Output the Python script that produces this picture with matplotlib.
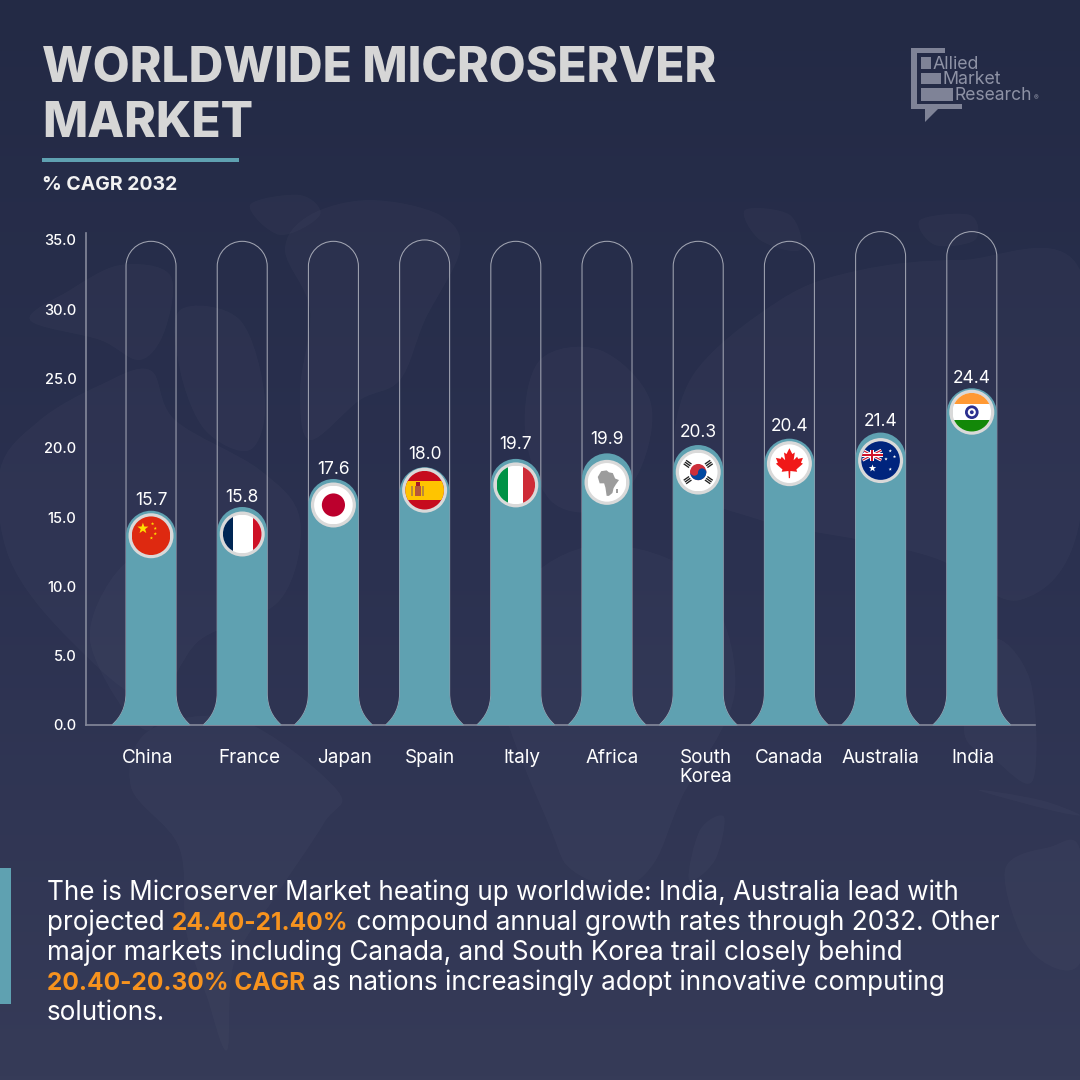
import numpy as np
import matplotlib
matplotlib.use("Agg")
import matplotlib.pyplot as plt
from matplotlib.colors import LinearSegmentedColormap
from matplotlib.patches import Circle, PathPatch, Polygon, Rectangle
from matplotlib.path import Path
from matplotlib.transforms import Affine2D, ScaledTranslation

plt.rcParams['font.family'] = ['Inter', 'DejaVu Sans']

countries = ["China", "France", "Japan", "Spain", "Italy", "Africa", "South\nKorea", "Canada", "Australia", "India"]
cagr_labels = [15.7, 15.8, 17.6, 18.0, 19.7, 19.9, 20.3, 20.4, 21.4, 24.4]
bar_heights = [15.46, 15.73, 17.75, 18.6, 19.2, 19.6, 20.2, 20.66, 21.1, 24.3]
track_heights = [34.9, 34.9, 34.9, 35.0, 34.9, 34.9, 34.9, 34.9, 35.6, 35.6]
y_ticks = [0, 5, 10, 15, 20, 25, 30, 35]

# hand placed bits of the original layout, in px
label_gap = [10, 9, 9, 13, 14, 14, 13, 12, 11, 10]
flag_inset = [25, 27, 26, 23, 26, 29, 27, 25, 28, 24]
xlabel_shift = [-3, 7, 11, 5, 6, 5, 8, 0, 0, 1]

TEAL = "#5fa1b1"
ORANGE = "#f7931e"
LOGO = "#7f8397"
FLAG_R = 22.5

body_lines = [
    [("The is Microserver Market heating up worldwide: India, Australia lead with", False)],
    [("projected ", False), ("24.40-21.40%", True), (" compound annual growth rates through 2032. Other", False)],
    [("major markets including Canada, and South Korea trail closely behind", False)],
    [("20.40-20.30% CAGR", True), (" as nations increasingly adopt innovative computing", False)],
    [("solutions.", False)],
]

# rough outline of the faint map behind the chart
land = [
    [(310, 215), (370, 200), (440, 215), (460, 250), (425, 320), (400, 380), (360, 400), (310, 440), (300, 390), (310, 310), (285, 250)],
    [(70, 290), (120, 265), (170, 275), (165, 330), (140, 360), (100, 340), (30, 320)],
    [(180, 310), (240, 320), (265, 400), (250, 450), (205, 430), (180, 370)],
    [(250, 205), (300, 195), (320, 215), (280, 235)],
    [(100, 385), (150, 370), (175, 420), (260, 470), (300, 520), (280, 600), (200, 640), (150, 700), (70, 640), (10, 560), (0, 470), (40, 420)],
    [(131, 787), (150, 730), (240, 720), (337, 790), (324, 823), (275, 897), (234, 963), (227, 1050), (207, 997), (186, 930), (179, 847)],
    [(551, 830), (500, 690), (520, 590), (600, 545), (700, 580), (735, 690), (682, 797), (654, 863), (620, 887), (572, 870)],
    [(689, 880), (700, 830), (724, 817), (715, 860)],
    [(540, 360), (600, 350), (650, 400), (640, 470), (600, 510), (550, 500), (525, 430)],
    [(780, 300), (860, 270), (960, 260), (1080, 270), (1080, 520), (1020, 600), (940, 560), (860, 540), (760, 520), (680, 480), (690, 380)],
    [(964, 730), (990, 640), (1030, 680), (1033, 780), (995, 760)],
    [(978, 790), (1040, 800), (1080, 815), (1050, 810)],
    [(1005, 870), (1050, 847), (1080, 850), (1080, 963), (1030, 950)],
    [(745, 210), (790, 215), (800, 250), (760, 240)],
    [(920, 220), (970, 215), (975, 240), (935, 245)],
    [(130, 560), (175, 600), (150, 730), (90, 640)],
]

fig = plt.figure(figsize=(10.8, 10.8), dpi=100)

# full page layer in px for background and text
bg = fig.add_axes([0, 0, 1, 1], zorder=0)
cmap = LinearSegmentedColormap.from_list("page", ["#232a45", "#2b3150", "#363b58"])
bg.imshow(np.linspace(0, 1, 256).reshape(-1, 1), cmap=cmap, aspect="auto", extent=(0, 1080, 1080, 0))
bg.set_xlim(0, 1080)
bg.set_ylim(1080, 0)
bg.axis("off")


def blob(pts):
    # closed catmull-rom through the outline points
    pts = np.array(pts, dtype=float)
    n = len(pts)
    verts = [pts[0]]
    codes = [Path.MOVETO]
    for i in range(n):
        p0, p1, p2, p3 = pts[i - 1], pts[i], pts[(i + 1) % n], pts[(i + 2) % n]
        verts += [p1 + (p2 - p0) / 6, p2 - (p3 - p1) / 6, p2]
        codes += [Path.CURVE4, Path.CURVE4, Path.CURVE4]
    return Path(verts, codes)


for pts in land:
    bg.add_patch(PathPatch(blob(pts), facecolor="white", alpha=0.022, edgecolor="none"))

# title block
bg.text(42, 82, "WORLDWIDE MICROSERVER", fontsize=34.5, fontweight=800, color="#d6d6d6", va="baseline", ha="left")
bg.text(42, 137, "MARKET", fontsize=34.5, fontweight=800, color="#d6d6d6", va="baseline", ha="left")
bg.add_patch(Rectangle((42, 158), 197, 4, facecolor=TEAL, edgecolor="none"))
bg.text(42, 190.5, "% CAGR 2032", fontsize=14, fontweight="bold", color="#f2f2f2", va="baseline", ha="left")

# logo
bg.add_patch(Polygon([(911, 48), (945, 48), (945, 53), (917, 53), (917, 104), (962, 104), (962, 109),
                      (938, 109), (925, 122), (925, 109), (911, 109)], closed=True, facecolor=LOGO, edgecolor="none"))
bg.add_patch(Rectangle((921, 57), 10, 12, facecolor=LOGO, edgecolor="none"))
bg.add_patch(Rectangle((921, 73), 20, 11, facecolor=LOGO, edgecolor="none"))
bg.add_patch(Rectangle((921, 88), 32, 13, facecolor=LOGO, edgecolor="none"))
bg.text(933, 69, "Allied", fontsize=12.8, color="#8e92a5", va="baseline", ha="left")
bg.text(943, 84, "Market", fontsize=12.8, color="#8e92a5", va="baseline", ha="left")
bg.text(955, 100, "Research", fontsize=12.6, color="#8e92a5", va="baseline", ha="left")
bg.text(1034, 100, "®", fontsize=5, color="#8e92a5", va="baseline", ha="left")

# chart axes
ax = fig.add_axes([86 / 1080, (1080 - 725) / 1080, (1035 - 86) / 1080, (725 - 233) / 1080], zorder=1)
ax.patch.set_alpha(0)
ax.set_xlim(-0.713, 9.693)
ax.set_ylim(0, 35.5)
ax.set_autoscale_on(False)
for side in ["top", "right"]:
    ax.spines[side].set_visible(False)
for side in ["left", "bottom"]:
    ax.spines[side].set_color("#85899b")
    ax.spines[side].set_linewidth(1.2)

px_x = 949 / (ax.get_xlim()[1] - ax.get_xlim()[0])
px_y = 492 / ax.get_ylim()[1]


def bar_path(center, height, half=25, flare=39, flare_h=32):
    # capsule with a flared foot, sizes in px
    def pt(dx, dy_from_base=None, dy_from_top=None):
        y = dy_from_base / px_y if dy_from_top is None else height - dy_from_top / px_y
        return (center + dx / px_x, y)
    k = half * 0.5523
    verts = [pt(-flare, 0), pt(-30, 8), pt(-half, 18), pt(-half, flare_h),
             pt(-half, dy_from_top=half),
             pt(-half, dy_from_top=half - k), pt(-k, dy_from_top=0), pt(0, dy_from_top=0),
             pt(k, dy_from_top=0), pt(half, dy_from_top=half - k), pt(half, dy_from_top=half),
             pt(half, flare_h), pt(half, 18), pt(30, 8), pt(flare, 0),
             pt(-flare, 0)]
    codes = [Path.MOVETO, Path.CURVE4, Path.CURVE4, Path.CURVE4, Path.LINETO,
             Path.CURVE4, Path.CURVE4, Path.CURVE4, Path.CURVE4, Path.CURVE4, Path.CURVE4,
             Path.LINETO, Path.CURVE4, Path.CURVE4, Path.CURVE4, Path.CLOSEPOLY]
    return Path(verts, codes)


for i in range(len(countries)):
    ax.add_patch(PathPatch(bar_path(i, track_heights[i]), facecolor="none", edgecolor="#d5d7de", linewidth=0.75,
                           alpha=0.7, zorder=2, clip_on=False))
    ax.add_patch(PathPatch(bar_path(i, bar_heights[i]), facecolor=TEAL, edgecolor="none", zorder=3))
    ax.annotate(f"{cagr_labels[i]:.1f}", xy=(i, bar_heights[i]), xytext=(0, label_gap[i] * 0.72), textcoords="offset points",
                ha="center", va="center", fontsize=12.5, color="white", zorder=5)

ax.set_yticks(y_ticks)
ax.set_yticklabels([f"{v:.1f}" for v in y_ticks], fontsize=10.5, color="white", fontweight="medium")
ax.tick_params(axis="y", length=0, pad=7)
ax.set_xticks(range(len(countries)))
ax.set_xticklabels(countries, fontsize=13.6, color="white", linespacing=1.12)
ax.tick_params(axis="x", length=0, pad=17)
for lab, dx in zip(ax.get_xticklabels(), xlabel_shift):
    lab.set_transform(lab.get_transform() + ScaledTranslation(dx / 100, 0, fig.dpi_scale_trans))


def star(x, y, r, color):
    p = Path.unit_regular_star(5, 0.4).transformed(Affine2D().scale(r).translate(x, y))
    return PathPatch(p, facecolor=color, edgecolor="none")


def rect(x0, y0, x1, y1, color, angle=0):
    corners = np.array([(x0, y0), (x1, y0), (x1, y1), (x0, y1)])
    rot = Affine2D().rotate_deg_around((x0 + x1) / 2, (y0 + y1) / 2, angle)
    return Polygon(rot.transform(corners), closed=True, facecolor=color, edgecolor="none")


def flag_china():
    parts = [rect(-1, -1, 1, 1, "#de2910"), star(-0.42, 0.38, 0.3, "#ffde00")]
    for x, y in [(0.08, 0.62), (0.22, 0.38), (0.22, 0.1), (0.02, -0.12)]:
        parts.append(star(x, y, 0.09, "#ffde00"))
    return parts


def flag_france():
    return [rect(-1, -1, 1, 1, "white"), rect(-1, -1, -0.5, 1, "#002654"), rect(0.55, -1, 1, 1, "#ce1126")]


def flag_japan():
    return [rect(-1, -1, 1, 1, "white"), Circle((0, 0), 0.6, facecolor="#bc002d", edgecolor="none")]


def flag_spain():
    return [rect(-1, -1, 1, 1, "#c60b1e"), rect(-1, -0.5, 1, 0.5, "#ffc400"),
            rect(-0.68, -0.3, -0.6, 0.2, "#b98a3a"), rect(-0.12, -0.3, -0.04, 0.2, "#b98a3a"),
            rect(-0.52, -0.32, -0.2, 0.22, "#b5573a"), rect(-0.46, 0.22, -0.26, 0.42, "#a5182a")]


def flag_italy():
    return [rect(-1, -1, 1, 1, "white"), rect(-1, -1, -0.38, 1, "#009246"), rect(0.35, -1, 1, 1, "#ce2b37")]


def flag_africa():
    shape = [(-0.48, 0.28), (-0.3, 0.58), (-0.02, 0.62), (0.1, 0.52), (0.3, 0.48), (0.42, 0.2), (0.62, 0.12),
             (0.45, -0.12), (0.34, -0.3), (0.28, -0.55), (0.1, -0.7), (-0.02, -0.7), (-0.08, -0.28), (-0.15, -0.05),
             (-0.38, -0.05)]
    return [rect(-1, -1, 1, 1, "white"), Polygon(shape, closed=True, facecolor="#9c9c9c", edgecolor="none"),
            rect(0.48, -0.55, 0.55, -0.35, "#9c9c9c")]


def flag_korea():
    parts = [rect(-1, -1, 1, 1, "white"), Circle((0, 0), 0.42, facecolor="#cd2e3a", edgecolor="none"),
             PathPatch(Path.wedge(190, 370).transformed(Affine2D().scale(0.42)), facecolor="#0047a0", edgecolor="none"),
             Circle((-0.2, 0.02), 0.21, facecolor="#cd2e3a", edgecolor="none"), Circle((0.2, -0.02), 0.21, facecolor="#0047a0", edgecolor="none")]
    for x, y, a in [(-0.55, 0.42, 55), (0.55, 0.42, -55), (-0.55, -0.42, -55), (0.55, -0.42, 55)]:
        for off in (-0.11, 0, 0.11):
            dx = off * np.cos(np.radians(a))
            dy = off * np.sin(np.radians(a))
            parts.append(rect(x + dx - 0.035, y + dy - 0.17, x + dx + 0.035, y + dy + 0.17, "#222222", angle=a))
    return parts


def flag_canada():
    half = [(0, 0.8), (0.15, 0.5), (0.28, 0.58), (0.22, 0.18), (0.4, 0.36), (0.45, 0.25), (0.7, 0.3), (0.6, 0.05),
            (0.7, 0), (0.36, -0.3), (0.4, -0.42), (0.05, -0.38), (0.03, -0.75)]
    shape = half + [(-x, y) for x, y in reversed(half)]
    return [rect(-1, -1, 1, 1, "white"), Polygon(shape, closed=True, facecolor="#f01818", edgecolor="none")]


def flag_australia():
    parts = [rect(-1, -1, 1, 1, "#00247d")]
    parts += [rect(-1.0, 0.2, 0.1, 0.36, "white", angle=28), rect(-1.0, 0.2, 0.1, 0.36, "white", angle=-28),
              rect(-1.0, 0.25, 0.1, 0.31, "#cf142b", angle=28), rect(-1.0, 0.25, 0.1, 0.31, "#cf142b", angle=-28),
              rect(-1.0, 0.17, 0.1, 0.39, "white"), rect(-0.55, 0, -0.35, 0.56, "white"),
              rect(-1.0, 0.23, 0.1, 0.33, "#cf142b"), rect(-0.5, 0, -0.4, 0.56, "#cf142b"),
              star(-0.42, -0.4, 0.2, "white")]
    for x, y, r in [(0.5, 0.5, 0.09), (0.28, 0.08, 0.09), (0.72, 0.2, 0.09), (0.5, -0.45, 0.09)]:
        parts.append(star(x, y, r, "white"))
    return parts


def flag_india():
    return [rect(-1, -1, 1, 1, "white"), rect(-1, 0.42, 1, 1, "#ff9933"), rect(-1, -1, 1, -0.42, "#138808"),
            Circle((0, 0), 0.28, facecolor="none", edgecolor="#2b2f8f", linewidth=2),
            Circle((0, 0), 0.1, facecolor="#2b2f8f", edgecolor="none")]


flags = [flag_china, flag_france, flag_japan, flag_spain, flag_italy, flag_africa, flag_korea, flag_canada, flag_australia, flag_india]

for i, make_flag in enumerate(flags):
    cx, top = ax.transData.transform((i, bar_heights[i]))
    cy = top - flag_inset[i]
    ax.add_patch(Circle((cx, cy), FLAG_R, facecolor="#d9d9d9", edgecolor="none", transform=Affine2D(), zorder=4))
    unit = Affine2D().scale(FLAG_R - 3.2).translate(cx, cy)
    clip = Circle((0, 0), 1, transform=unit)
    for part in make_flag():
        part.set_transform(unit)
        part.set_zorder(4.5)
        ax.add_patch(part)
        part.set_clip_path(clip)

# text block at the bottom
bg.add_patch(Rectangle((0, 868), 11, 136, facecolor=TEAL, edgecolor="none"))
renderer = fig.canvas.get_renderer()
for n, segments in enumerate(body_lines):
    x = 47
    y = 900 + n * 30
    for txt, strong in segments:
        t = bg.text(x, y, txt, fontsize=17.6 if strong else 18.75, color=ORANGE if strong else "white",
                    fontweight="bold" if strong else "normal", va="baseline", ha="left")
        x = t.get_window_extent(renderer).x1

fig.savefig("out.png", dpi=100)
